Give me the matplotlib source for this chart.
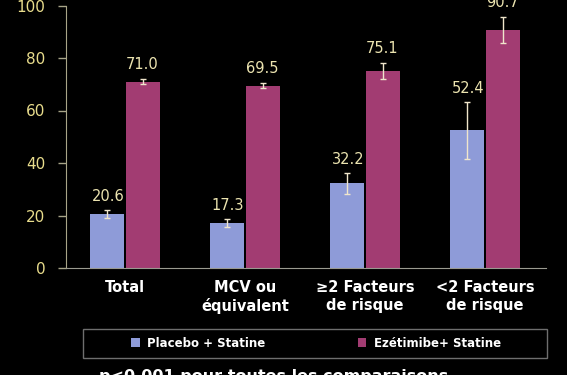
import numpy as np
import matplotlib
matplotlib.use('Agg')
from matplotlib import pyplot as plt
from matplotlib.patches import Rectangle

categories = ['Total', 'MCV ou\néquivalent', '\u22652 Facteurs\nde risque', '<2 Facteurs\nde risque']
placebo = [20.6, 17.3, 32.2, 52.4]
placebo_err = [1.5, 1.5, 4.0, 11.0]
ezetimibe = [71.0, 69.5, 75.1, 90.7]
ezetimibe_err = [1.0, 1.0, 3.0, 5.0]
series_names = ['Placebo + Statine', 'Ezétimibe+ Statine']
yticks = [0, 20, 40, 60, 80, 100]

blue = '#8e9bd8'
magenta = '#a23c72'
yellow = '#e8dc8c'
label_col = '#ece4b0'
err_col = '#f0e6cc'

plt.rcParams['font.family'] = ['DejaVu Sans']

fig = plt.figure(figsize=(5.67, 3.75), dpi=100, facecolor='black')
ax = fig.add_axes([66/567, 1-268/375, 480/567, 262.5/375])
ax.set_facecolor('black')

x = np.arange(len(categories))
w = 0.283
b1 = ax.bar(x - w/2 - 0.006, placebo, w, color=blue, label=series_names[0])
b2 = ax.bar(x + w/2 + 0.006, ezetimibe, w, color=magenta, label=series_names[1])
ax.errorbar(x - w/2 - 0.006, placebo, yerr=placebo_err, fmt='none',
            ecolor=err_col, elinewidth=1, capsize=2.5, capthick=1)
ax.errorbar(x + w/2 + 0.006, ezetimibe, yerr=ezetimibe_err, fmt='none',
            ecolor=err_col, elinewidth=1, capsize=2.5, capthick=1)

for xi, v, e in zip(x - w/2, placebo, placebo_err):
    ax.annotate(f'{v:.1f}', (xi, v + e), xytext=(0, 4), textcoords='offset points',
                ha='center', va='bottom', color=label_col, fontsize=10.5,
                annotation_clip=False)
for xi, v, e in zip(x + w/2, ezetimibe, ezetimibe_err):
    ax.annotate(f'{v:.1f}', (xi, v + e), xytext=(0, 5), textcoords='offset points',
                ha='center', va='bottom', color=label_col, fontsize=10.5,
                annotation_clip=False)

ax.set_xlim(-0.4917, 3.508)
ax.set_ylim(0, 100)
ax.set_yticks(yticks)
ax.tick_params(axis='y', colors='#a8a488', labelcolor=yellow, labelsize=11,
               length=6, width=1, pad=9)
ax.set_xticks(x)
ax.set_xticklabels(categories, color='white', fontweight='bold', fontsize=10.5,
                   linespacing=1.25)
ax.tick_params(axis='x', length=0, pad=8.5)
for s in ['top', 'right']:
    ax.spines[s].set_visible(False)
ax.spines['left'].set_color('#a8a488')
ax.spines['bottom'].set_color('#9a9a90')

# legend box
fig.patches.append(Rectangle((83/567, 1-358/375), 464/567, 29/375,
                             transform=fig.transFigure, fill=False,
                             edgecolor='#6e6e6e', linewidth=1))
leg = fig.legend(handles=[b1, b2], loc='center', bbox_to_anchor=(316/567, 1-343.5/375),
                 ncol=2, frameon=False, columnspacing=7.9, handlelength=0.7,
                 handleheight=0.8, handletextpad=0.6,
                 prop={'weight': 'bold', 'size': 8.5})
for t in leg.get_texts():
    t.set_color('white')

fig.text(274/567, 1-369.5/375, 'p<0.001 pour toutes les comparaisons', color='white',
         fontweight='bold', fontsize=11.5, ha='center', va='top')

fig.savefig('out.png', dpi=100, facecolor='black')
